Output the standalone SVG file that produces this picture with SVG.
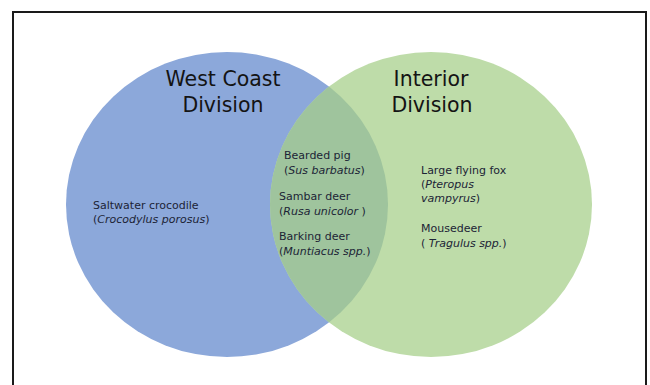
<svg xmlns="http://www.w3.org/2000/svg" width="650" height="385" viewBox="0 0 650 385">
  <style>
    .title { font-family: "DejaVu Sans", Verdana, sans-serif; font-size: 20.5px; fill: #141414; text-anchor: middle; }
    .item { font-family: "DejaVu Sans", Verdana, sans-serif; font-size: 11px; fill: #1c2436; }
    .sci { font-style: italic; }
  </style>
  <defs>
    <clipPath id="westClip">
      <ellipse cx="227" cy="204.5" rx="161" ry="152.5"/>
    </clipPath>
  </defs>
  <rect x="0" y="0" width="650" height="385" fill="#ffffff"/>
  <rect id="frame" x="13" y="12" width="633" height="390" fill="none" stroke="#1a1a1a" stroke-width="2"/>

  <g id="west-coast-division">
    <ellipse cx="227" cy="204.5" rx="161" ry="152.5" fill="#8CA8DA"/>
  </g>
  <g id="interior-division">
    <ellipse cx="431" cy="204.5" rx="161" ry="152.5" fill="#BEDCA9"/>
  </g>
  <g id="overlap">
    <ellipse cx="431" cy="204.5" rx="161" ry="152.5" fill="#9FC49D" clip-path="url(#westClip)"/>
  </g>
  <g id="connectors"></g>

  <g id="west-title">
    <text class="title" x="223" y="86">West Coast</text>
    <text class="title" x="223" y="112">Division</text>
  </g>
  <g id="interior-title">
    <text class="title" x="431" y="86">Interior</text>
    <text class="title" x="432" y="112">Division</text>
  </g>

  <g id="saltwater-crocodile">
    <text class="item" x="93" y="208.5">Saltwater crocodile</text>
    <text class="item" x="93" y="222.5">(<tspan class="sci">Crocodylus porosus</tspan>)</text>
  </g>

  <g id="bearded-pig">
    <text class="item" x="284" y="159">Bearded pig</text>
    <text class="item" x="284" y="173.5">(<tspan class="sci">Sus barbatus</tspan>)</text>
  </g>
  <g id="sambar-deer">
    <text class="item" x="279" y="200">Sambar deer</text>
    <text class="item" x="279" y="214.5">(<tspan class="sci">Rusa unicolor</tspan> )</text>
  </g>
  <g id="barking-deer">
    <text class="item" x="279" y="240">Barking deer</text>
    <text class="item" x="279" y="254.5">(<tspan class="sci">Muntiacus spp.</tspan>)</text>
  </g>

  <g id="large-flying-fox">
    <text class="item" x="421" y="174">Large flying fox</text>
    <text class="item" x="421" y="188">(<tspan class="sci">Pteropus</tspan></text>
    <text class="item" x="421" y="201.5"><tspan class="sci">vampyrus</tspan>)</text>
  </g>
  <g id="mousedeer">
    <text class="item" x="421" y="231.5">Mousedeer</text>
    <text class="item" x="421" y="246.5">( <tspan class="sci">Tragulus spp.</tspan>)</text>
  </g>
</svg>
